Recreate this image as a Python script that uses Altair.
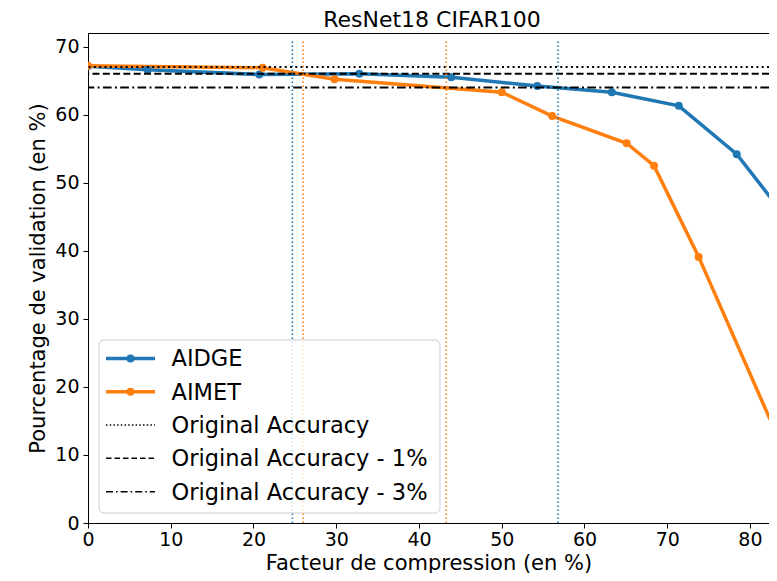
import altair as alt
import pandas as pd

title_text = "ResNet18 CIFAR100"
x_title = "Facteur de compression (en %)"
y_title = "Pourcentage de validation (en %)"

aidge_x = [0.0, 7.2, 20.7, 32.8, 43.9, 54.3, 63.3, 71.4, 78.4, 85.0]
aidge_y = [67.1, 66.6, 65.9, 66.0, 65.5, 64.2, 63.3, 61.3, 54.2, 43.9]
aimet_x = [0.0, 21.1, 29.8, 50.0, 56.1, 65.1, 68.4, 73.8, 85.0]
aimet_y = [67.2, 66.9, 65.2, 63.3, 59.8, 55.8, 52.5, 39.1, 8.1]

series_names = ["AIDGE", "AIMET"]
thresholds = [67.0, 66.0, 64.0]
threshold_labels = ["Original Accuracy", "Original Accuracy - 1%", "Original Accuracy - 3%"]
aidge_cross = [24.7, 56.8]
aimet_cross = [26.0, 43.3]
vline_top = 71

x_ticks = [0, 10, 20, 30, 40, 50, 60, 70, 80]
y_ticks = [0, 10, 20, 30, 40, 50, 60, 70]

BLUE = "#1f77b4"
ORANGE = "#ff7f0e"
FONT = "DejaVu Sans"
W, H = 681, 490
dashes = [[2, 3.3], [7, 3.3], [8.7, 3.3, 2, 3.3]]

xs = alt.Scale(domain=[0, 82.3], nice=False, zero=False)
ys = alt.Scale(domain=[0, 72], nice=False, zero=False)
x_axis = alt.Axis(values=x_ticks, title=x_title, grid=False, labelFlush=False,
                  titleY=46, titleBaseline="alphabetic")
y_axis = alt.Axis(values=y_ticks, title=y_title, grid=False, labelFlush=False,
                  titleX=-44, titleBaseline="alphabetic")
color_scale = alt.Scale(domain=series_names, range=[BLUE, ORANGE])

df_series = pd.DataFrame({
    "x": aidge_x + aimet_x,
    "y": aidge_y + aimet_y,
    "s": [series_names[0]] * len(aidge_x) + [series_names[1]] * len(aimet_x),
})

X = alt.X("x:Q", scale=xs, axis=x_axis)
Y = alt.Y("y:Q", scale=ys, axis=y_axis)
C = alt.Color("s:N", scale=color_scale, legend=None)

lines = alt.Chart(df_series).mark_line(strokeWidth=3.5, clip=True).encode(x=X, y=Y, color=C)
points = alt.Chart(df_series).mark_circle(size=64, opacity=1, clip=True).encode(x=X, y=Y, color=C)

layers = [lines, points]

for val, d in zip(thresholds, dashes):
    layers.append(
        alt.Chart(pd.DataFrame({"y": [val]}))
        .mark_rule(color="black", strokeWidth=2, strokeDash=d)
        .encode(y=Y)
    )

df_v = pd.DataFrame({
    "x": aidge_cross + aimet_cross,
    "y": [0.0] * 4,
    "y2": [vline_top] * 4,
    "s": [series_names[0]] * len(aidge_cross) + [series_names[1]] * len(aimet_cross),
})
layers.append(
    alt.Chart(df_v).mark_rule(strokeWidth=1.6, strokeDash=[1.6, 2.4])
    .encode(x=X, y=Y, y2="y2:Q", color=C)
)

dummy = pd.DataFrame({"d": [0]})
# top spine
layers.append(
    alt.Chart(dummy).mark_rule(color="black", strokeWidth=1)
    .encode(x=alt.value(0), x2=alt.value(W), y=alt.value(0.5))
)

# legend box
layers.append(
    alt.Chart(dummy).mark_rect(fill="white", fillOpacity=0.8, stroke="#cccccc",
                               strokeWidth=1, cornerRadius=5)
    .encode(x=alt.value(11), x2=alt.value(352), y=alt.value(307), y2=alt.value(480))
)

leg_labels = series_names + threshold_labels
leg_colors = [BLUE, ORANGE, "black", "black", "black"]
leg_dash = [[1, 0], [1, 0]] + [[1.5, 2.2], [5.5, 3], [7, 3, 1.6, 3]]
leg_width = [3.5, 3.5, 1.6, 1.6, 1.6]
leg_y = [325.5, 358.7, 392.0, 425.3, 458.7]

for lab, col, d, sw, py in zip(leg_labels, leg_colors, leg_dash, leg_width, leg_y):
    layers.append(
        alt.Chart(dummy).mark_rule(color=col, strokeWidth=sw, strokeDash=d)
        .encode(x=alt.value(18), x2=alt.value(67), y=alt.value(py))
    )
    if col != "black":
        layers.append(
            alt.Chart(dummy).mark_circle(size=64, opacity=1, color=col)
            .encode(x=alt.value(42.5), y=alt.value(py))
        )
    layers.append(
        alt.Chart(dummy).mark_text(text=lab, align="left", baseline="alphabetic",
                                   font=FONT, fontSize=22.5, color="black")
        .encode(x=alt.value(83.5), y=alt.value(py + 7.8))
    )

chart = alt.layer(*layers).properties(
    width=W, height=H,
    title=alt.TitleParams(title_text, fontSize=22, font=FONT, fontWeight="normal",
                          color="black", anchor="middle", frame="group",
                          offset=1, dx=3.5),
    autosize=alt.AutoSizeParams(type="none"),
    padding={"left": 80, "top": 25, "right": 0, "bottom": 50},
).configure_view(stroke=None).configure_axis(
    labelFont=FONT, titleFont=FONT, labelFontSize=19, titleFontSize=21,
    titleFontWeight="normal", labelColor="black", titleColor="black",
    domainColor="black", tickColor="black", domainWidth=1, tickWidth=1,
    tickSize=5,
).configure_axisX(labelPadding=2).configure_axisY(labelPadding=4)

chart.save("out.html", embed_options={"renderer": "svg", "actions": False})
